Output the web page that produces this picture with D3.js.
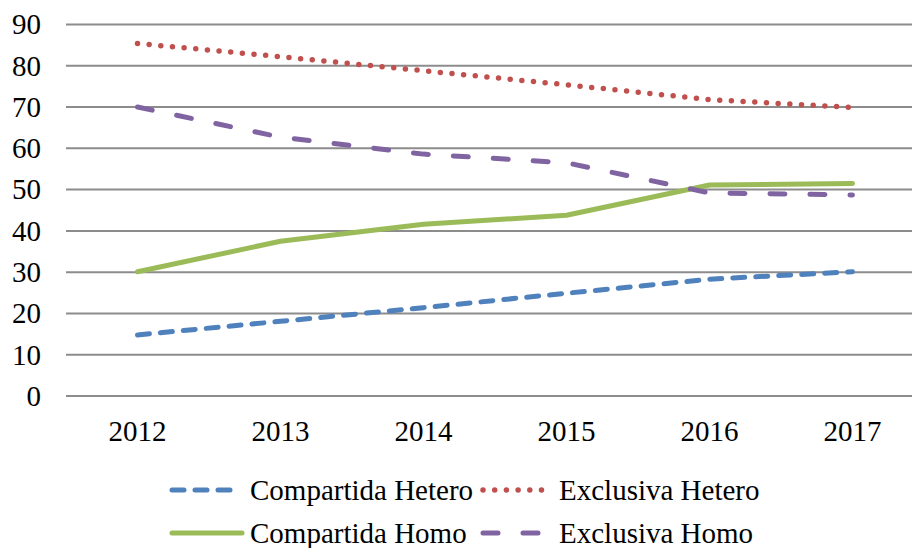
<!DOCTYPE html>
<html>
<head>
<meta charset="utf-8">
<script src="https://cdn.jsdelivr.net/npm/d3@7"></script>
<style>
  body { margin: 0; background: #fff; }
  text { font-family: "Liberation Serif", "Times New Roman", serif; fill: #000; }
</style>
</head>
<body>
<div id="viz"></div>
<script>
var years = ["2012", "2013", "2014", "2015", "2016", "2017"];
var yTicks = [0, 10, 20, 30, 40, 50, 60, 70, 80, 90];
var compartidaHetero = [14.8, 18.1, 21.4, 24.9, 28.3, 30.1];
var exclusivaHetero = [85.4, 82.2, 78.8, 75.4, 71.8, 69.9];
var compartidaHomo = [30.1, 37.5, 41.6, 43.8, 51.1, 51.5];
var exclusivaHomo = [70.0, 62.7, 58.6, 56.5, 49.2, 48.7];

var series = [
  {name: "Compartida Hetero", values: compartidaHetero, color: "#4F81BD", dash: "12,11", width: 5},
  {name: "Exclusiva Hetero", values: exclusivaHetero, color: "#C0504D", dash: "0,11.7", width: 5.5},
  {name: "Compartida Homo", values: compartidaHomo, color: "#9BBB59", dash: null, width: 5},
  {name: "Exclusiva Homo", values: exclusivaHomo, color: "#8064A2", dash: "15,25", width: 5}
];

var width = 912, height = 548;

var svg = d3.select('#viz')
  .append('svg')
  .attr('width', width)
  .attr('height', height);

var x = d3.scaleBand()
  .domain(years)
  .range([66, 924]);

var y = d3.scaleLinear()
  .domain([0, 90])
  .range([396, 24.5]);

// gridlines
svg.append("g")
  .selectAll("line")
  .data(yTicks)
  .join("line")
  .attr("x1", 66)
  .attr("x2", width)
  .attr("y1", d => y(d))
  .attr("y2", d => y(d))
  .attr("stroke", "#8c8c8c")
  .attr("stroke-width", 2);

// y labels
svg.append("g")
  .selectAll("text")
  .data(yTicks)
  .join("text")
  .attr("x", 41)
  .attr("y", d => y(d))
  .attr("dy", "0.34em")
  .attr("text-anchor", "end")
  .style("font-size", "29px")
  .text(d => d);

// x labels
svg.append("g")
  .selectAll("text")
  .data(years)
  .join("text")
  .attr("x", d => x(d) + x.bandwidth() / 2)
  .attr("y", 441)
  .attr("text-anchor", "middle")
  .style("font-size", "29px")
  .text(d => d);

var line = d3.line()
  .x((d, i) => x(years[i]) + x.bandwidth() / 2)
  .y(d => y(d));

svg.append("g")
  .selectAll("path")
  .data(series)
  .join("path")
  .attr("d", d => line(d.values))
  .attr("fill", "none")
  .attr("stroke", d => d.color)
  .attr("stroke-width", d => d.width)
  .attr("stroke-linecap", "round")
  .attr("stroke-linejoin", "round")
  .attr("stroke-dasharray", d => d.dash);

// legend
var legendPos = [
  {x: 172, y: 490}, {x: 483, y: 490},
  {x: 172, y: 533}, {x: 483, y: 533}
];

var legend = svg.append("g")
  .selectAll("g")
  .data(series)
  .join("g")
  .attr("transform", (d, i) => `translate(${legendPos[i].x},${legendPos[i].y})`);

legend.append("line")
  .attr("x1", 0)
  .attr("x2", d => d.dash ? 62 : 70)
  .attr("y1", 0)
  .attr("y2", 0)
  .attr("stroke", d => d.color)
  .attr("stroke-width", d => d.width)
  .attr("stroke-linecap", "round")
  .attr("stroke-dasharray", d => d.dash);

legend.append("text")
  .attr("x", (d, i) => i % 2 === 0 ? 78 : 76)
  .attr("y", 0)
  .attr("dy", "0.34em")
  .style("font-size", "29px")
  .text(d => d.name);
</script>
</body>
</html>
